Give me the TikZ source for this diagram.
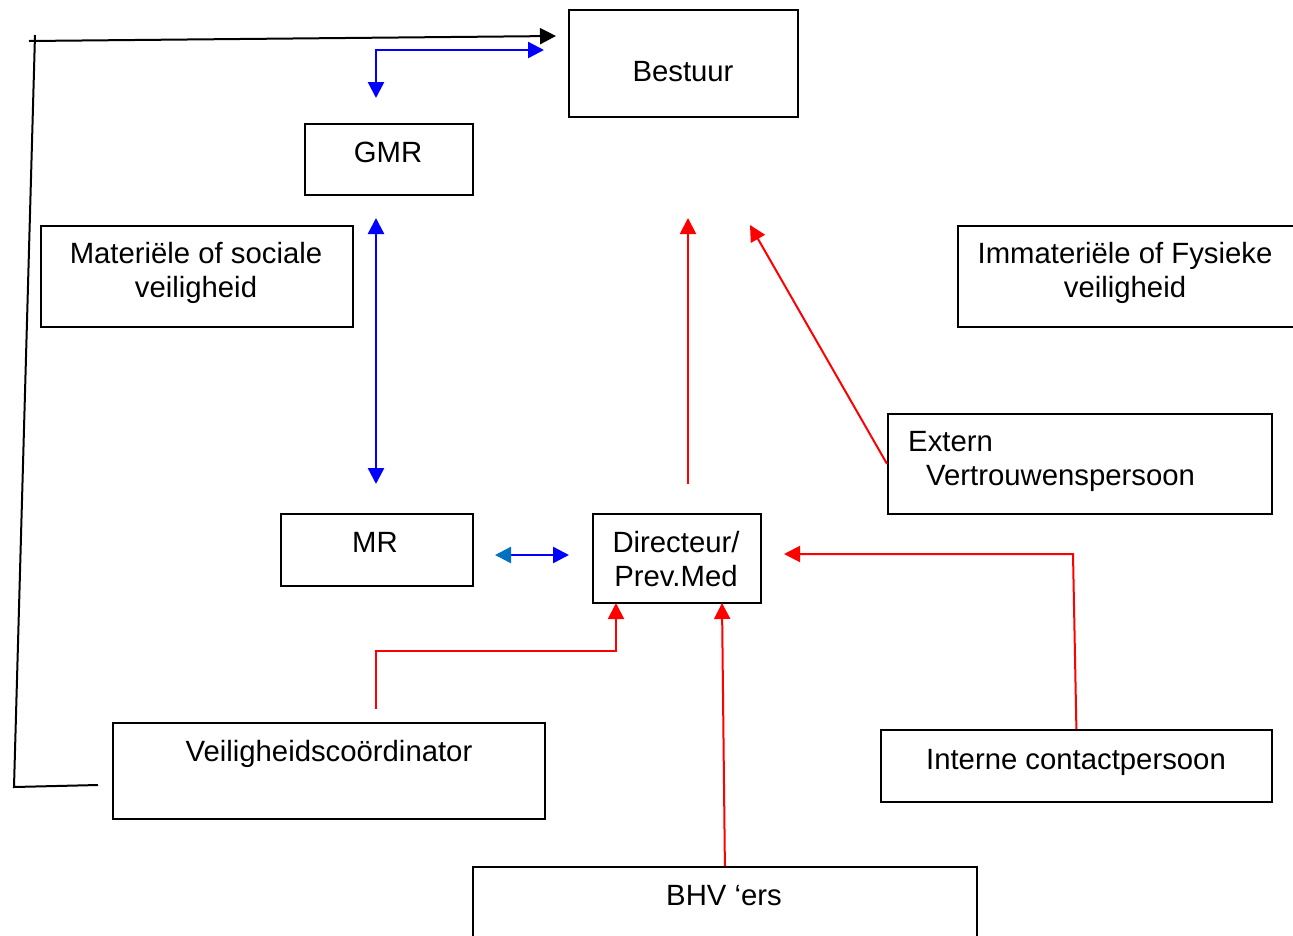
\documentclass[tikz,border=0pt]{standalone}
\usepackage{fontspec}
\setmainfont{Liberation Sans}
\usetikzlibrary{arrows.meta}
\definecolor{myblue}{RGB}{0,0,255}
\definecolor{myred}{RGB}{255,0,0}
\definecolor{midblue}{RGB}{0,112,192}
\tikzset{tri/.tip={Triangle[length=16pt,width=16pt]}}
\begin{document}
\begin{tikzpicture}[x=1pt,y=-1pt,
  box/.style={draw=black, line width=1.8pt, inner sep=0pt, anchor=north west},
  txt/.style={font=\fontsize{29.3}{34}\selectfont, inner sep=0pt, anchor=base},
  ltxt/.style={txt, anchor=base west},
  bl/.style={draw=myblue, line width=2.4pt},
  rd/.style={draw=myred, line width=2pt},
  blk/.style={draw=black, line width=2pt}]
\useasboundingbox (0,0) rectangle (1293,935);
\clip (0,0) rectangle (1293,935);
\fill[white] (0,0) rectangle (1293,935);

% boxes
\node[box, minimum width=229pt, minimum height=107pt] (bestuur) at (568,9) {};
\node[box, minimum width=168pt, minimum height=71pt] (gmr) at (304,123) {};
\node[box, minimum width=312pt, minimum height=101pt] (mat) at (40,225) {};
\node[box, minimum width=360pt, minimum height=101pt] (imm) at (957,225) {};
\node[box, minimum width=384pt, minimum height=100pt] (extern) at (887,413) {};
\node[box, minimum width=192pt, minimum height=72pt] (mr) at (280,513) {};
\node[box, minimum width=168pt, minimum height=89pt] (dir) at (592,513) {};
\node[box, minimum width=432pt, minimum height=96pt] (veil) at (112,722) {};
\node[box, minimum width=391pt, minimum height=72pt] (interne) at (880,729) {};
\node[box, minimum width=504pt, minimum height=120pt] (bhv) at (472,866) {};

% texts
\node[txt] (tbestuur) at (683,81) {Bestuur};
\node[txt] (tgmr) at (388,162) {GMR};
\node[txt] (tmat1) at (196,263) {Materiële of sociale};
\node[txt] (tmat2) at (196,297) {veiligheid};
\node[txt] (timm1) at (1125,263) {Immateriële of Fysieke};
\node[txt] (timm2) at (1125,297) {veiligheid};
\node[ltxt] (text1) at (908,451) {Extern};
\node[ltxt] (text2) at (926,485) {Vertrouwenspersoon};
\node[txt] (tmr) at (375,552) {MR};
\node[txt] (tdir1) at (676,552) {Directeur/};
\node[txt] (tdir2) at (676,586) {Prev.Med};
\node[txt] (tveil) at (329,761) {Veiligheidscoördinator};
\node[txt] (tint) at (1076,769) {Interne contactpersoon};
\node[txt] (tbhv) at (724,905) {BHV ‘ers};

% black connector
\coordinate (k1) at (98,785);
\coordinate (k2) at (14,787);
\coordinate (k3) at (35,35);
\coordinate (k4) at (29,41);
\coordinate (k5) at (556,36);
\draw[blk] (k1) -- (k2) -- (k3);
\draw[blk, -{tri}] (k4) -- (k5);

% blue connectors
\coordinate (b0) at (376,50);
\coordinate (b1) at (376,98);
\coordinate (b2) at (544,50);
\draw[bl, {tri}-{tri}, line join=miter] (b1) -- (b0) -- (b2);
\coordinate (b3) at (376,218);
\coordinate (b4) at (376,484);
\draw[bl, {tri}-{tri}] (b3) -- (b4);
\coordinate (b5) at (495,555);
\coordinate (b6) at (569,555);
\draw[bl, {Triangle[length=16pt,width=16pt,fill=midblue,color=midblue]}-{tri}] (b5) -- (b6);

% red connectors
\coordinate (r1) at (688,484);
\coordinate (r2) at (688,218);
\draw[rd, -{tri}] (r1) -- (r2);
\coordinate (r3) at (750,225);
\draw[rd, -{tri}] (extern.west) -- (r3);
\coordinate (r4) at (1073,554);
\coordinate (r5) at (784,554);
\draw[rd, -{tri}] (interne.north) -- (r4) -- (r5);
\coordinate (r6) at (376,709);
\coordinate (r7) at (376,651);
\coordinate (r8) at (616,651);
\coordinate (r9) at (616,603);
\draw[rd, -{tri}] (r6) -- (r7) -- (r8) -- (r9);
\coordinate (r10) at (722,603);
\draw[rd, -{tri}] (bhv.north) -- (r10);
\end{tikzpicture}
\end{document}
